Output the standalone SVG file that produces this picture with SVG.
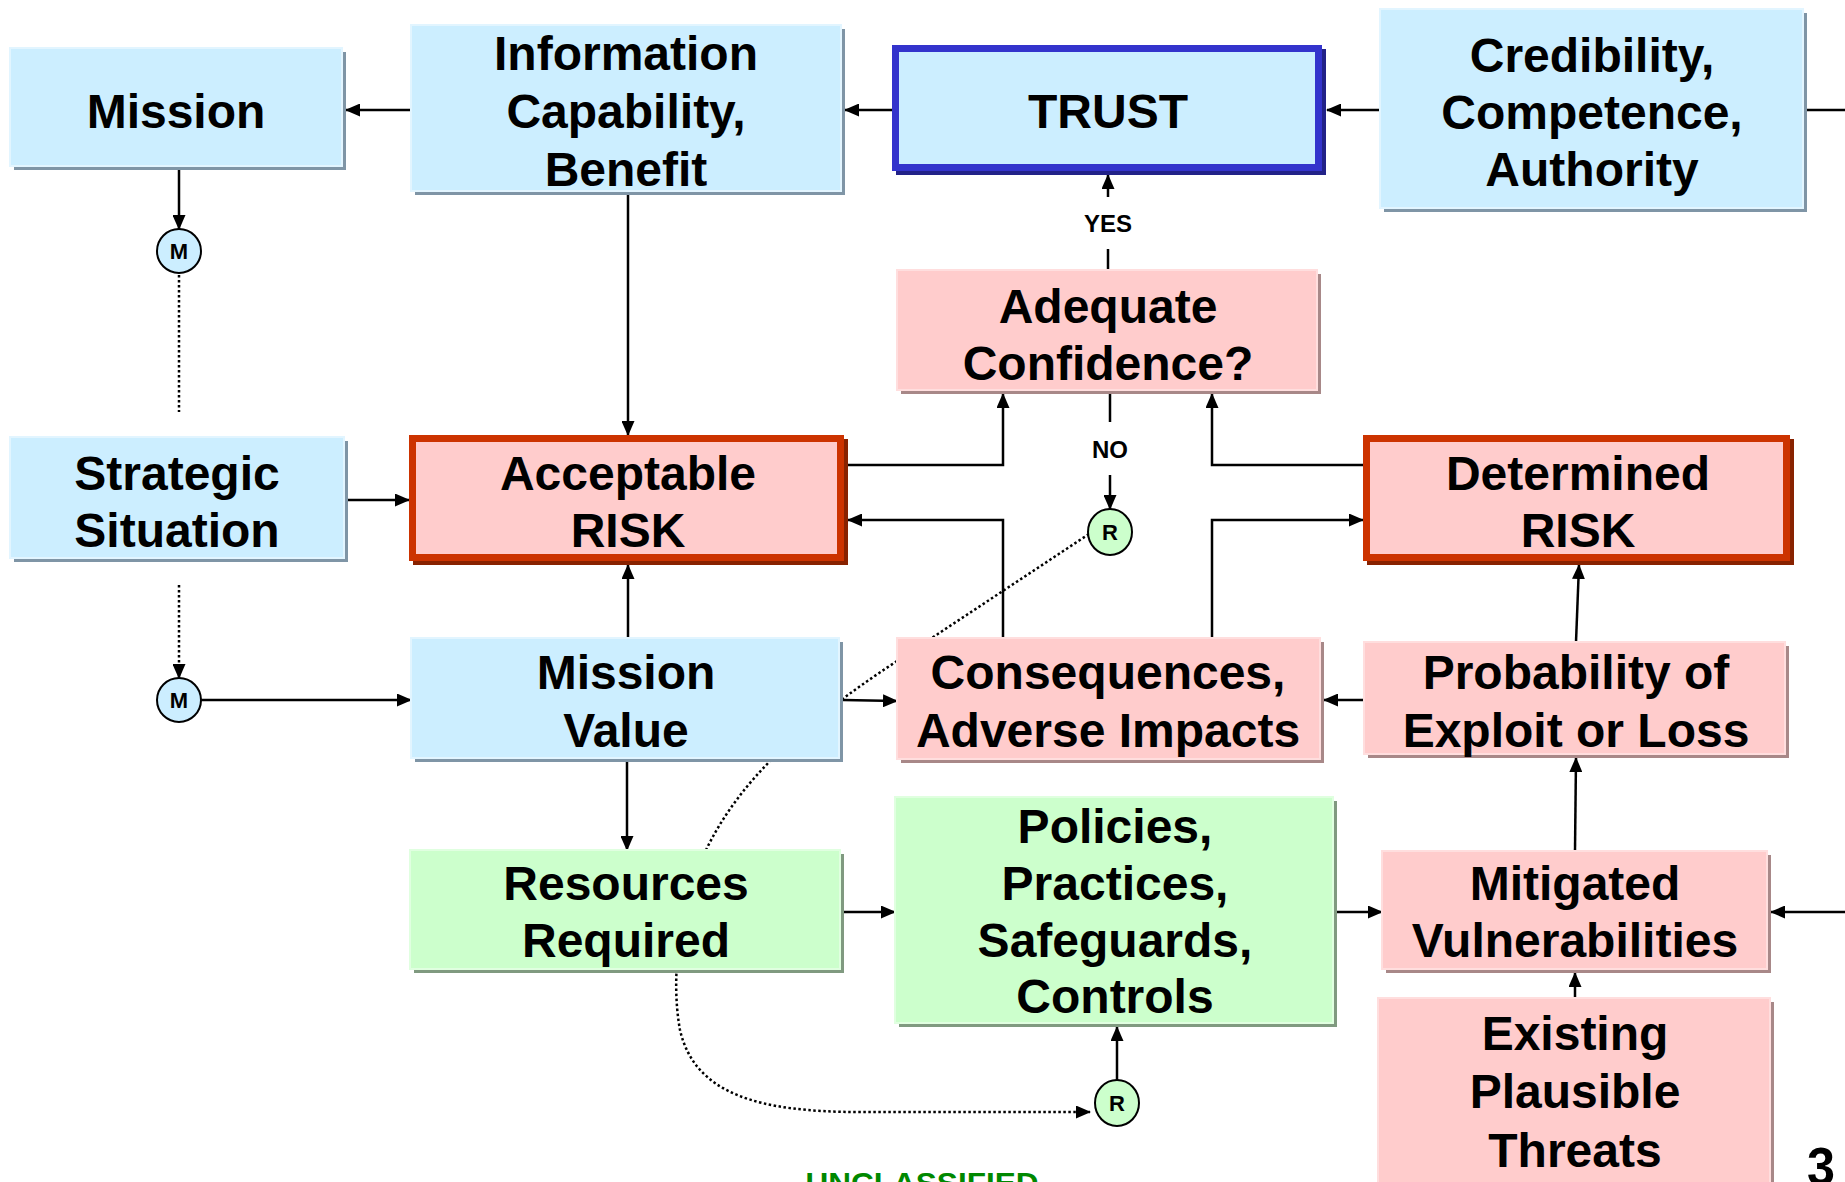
<svg xmlns="http://www.w3.org/2000/svg" width="1845" height="1182" viewBox="0 0 1845 1182">
<style>
.t{font-family:"Liberation Sans",Arial,sans-serif;font-weight:bold;font-size:48px;fill:#000;text-anchor:middle}
.s{font-family:"Liberation Sans",Arial,sans-serif;font-weight:bold;font-size:24px;fill:#000;text-anchor:middle}
.c{font-family:"Liberation Sans",Arial,sans-serif;font-weight:bold;font-size:22px;fill:#000;text-anchor:middle}
.blue{fill:#cceeff;stroke:#e2f5ff;stroke-width:2}
.pink{fill:#ffcccc;stroke:#ffdede;stroke-width:2}
.green{fill:#ccffcc;stroke:#e0ffe0;stroke-width:2}
.shb{fill:#7f95a6}
.shp{fill:#a88888}
.shg{fill:#809a80}
.red{fill:#ffcccc;stroke:#cc3300;stroke-width:7}
.shr{fill:#882200}
.trust{fill:#cceeff;stroke:#3333cc;stroke-width:7}
.sht{fill:#222288}
.ln{fill:none;stroke:#000;stroke-width:2.5}
.dot{fill:none;stroke:#000;stroke-width:2.5;stroke-dasharray:2.5,2.5}
.circM{fill:#cceeff;stroke:#000;stroke-width:2}
.circR{fill:#ccffcc;stroke:#000;stroke-width:2}
</style>
<defs>
<marker id="ah" markerUnits="userSpaceOnUse" markerWidth="15" markerHeight="13" refX="14" refY="6.5" orient="auto">
<path d="M0,0 L15,6.5 L0,13 z" fill="#000"/>
</marker>
</defs>

<g id="connectors">
<path class="ln" d="M411,110 L346,110" marker-end="url(#ah)"/>
<path class="ln" d="M892,110 L845,110" marker-end="url(#ah)"/>
<path class="ln" d="M1380,110 L1327,110" marker-end="url(#ah)"/>
<path class="ln" d="M1807,110 L1845,110"/>
<path class="ln" d="M179,170 L179,229" marker-end="url(#ah)"/>
<path class="dot" d="M179,275 L179,412"/>
<path class="dot" d="M179,585 L179,678" marker-end="url(#ah)"/>
<path class="ln" d="M201,700 L411,700" marker-end="url(#ah)"/>
<path class="ln" d="M348,500 L409,500" marker-end="url(#ah)"/>
<path class="ln" d="M628,195 L628,435" marker-end="url(#ah)"/>
<path class="ln" d="M628,638 L628,565" marker-end="url(#ah)"/>
<path class="ln" d="M843,700 L897,701" marker-end="url(#ah)"/>
<path class="ln" d="M1003,638 L1003,520 L848,520" marker-end="url(#ah)"/>
<path class="ln" d="M848,465 L1003,465 L1003,394" marker-end="url(#ah)"/>
<path class="ln" d="M1108,270 L1108,249"/>
<path class="ln" d="M1108,197 L1108,175" marker-end="url(#ah)"/>
<path class="ln" d="M1110,394 L1110,422"/>
<path class="ln" d="M1110,475 L1110,509" marker-end="url(#ah)"/>
<path class="ln" d="M1363,465 L1212,465 L1212,394" marker-end="url(#ah)"/>
<path class="ln" d="M1212,638 L1212,520 L1363,520" marker-end="url(#ah)"/>
<path class="ln" d="M1576,642 L1579,565" marker-end="url(#ah)"/>
<path class="ln" d="M1364,700 L1324,700" marker-end="url(#ah)"/>
<path class="ln" d="M1575,851 L1576,758" marker-end="url(#ah)"/>
<path class="ln" d="M1575,998 L1575,973" marker-end="url(#ah)"/>
<path class="ln" d="M1337,912 L1382,912" marker-end="url(#ah)"/>
<path class="ln" d="M1845,912 L1771,912" marker-end="url(#ah)"/>
<path class="ln" d="M627,762 L627,850" marker-end="url(#ah)"/>
<path class="ln" d="M844,912 L895,912" marker-end="url(#ah)"/>
<path class="ln" d="M1117,1080 L1117,1027" marker-end="url(#ah)"/>
<path class="dot" d="M1089,534 L897,661 C800,725 740,780 706,850 C680,905 670,975 680,1030 C695,1095 760,1112 860,1112 L1090,1112" marker-end="url(#ah)"/>
<text class="s" x="1108" y="232">YES</text>
<text class="s" x="1110" y="458">NO</text>
</g>

<g id="mission">
<rect class="shb" x="14" y="52" width="332" height="118"/>
<rect class="blue" x="10" y="48" width="332" height="118"/>
<text class="t" x="176" y="128">Mission</text>
</g>

<g id="info">
<rect class="shb" x="415" y="29" width="430" height="166"/>
<rect class="blue" x="411" y="25" width="430" height="166"/>
<text class="t" x="626" y="70">Information</text>
<text class="t" x="626" y="128">Capability,</text>
<text class="t" x="626" y="186">Benefit</text>
</g>

<g id="trust">
<rect class="sht" x="896" y="49" width="430" height="126"/>
<rect class="trust" x="895.5" y="48.5" width="423" height="119"/>
<text class="t" x="1108" y="128">TRUST</text>
</g>

<g id="credibility">
<rect class="shb" x="1384" y="13" width="423" height="199"/>
<rect class="blue" x="1380" y="9" width="423" height="199"/>
<text class="t" x="1592" y="72">Credibility,</text>
<text class="t" x="1592" y="129">Competence,</text>
<text class="t" x="1592" y="186">Authority</text>
</g>

<g id="m1">
<ellipse class="circM" cx="179" cy="251" rx="22" ry="22"/>
<text class="c" x="179" y="259">M</text>
</g>

<g id="adequate">
<rect class="shp" x="901" y="274" width="420" height="120"/>
<rect class="pink" x="897" y="270" width="420" height="120"/>
<text class="t" x="1108" y="323">Adequate</text>
<text class="t" x="1108" y="380">Confidence?</text>
</g>

<g id="strategic">
<rect class="shb" x="14" y="441" width="334" height="121"/>
<rect class="blue" x="10" y="437" width="334" height="121"/>
<text class="t" x="177" y="490">Strategic</text>
<text class="t" x="177" y="547">Situation</text>
</g>

<g id="acceptable">
<rect class="shr" x="413" y="439" width="435" height="126"/>
<rect class="red" x="412.5" y="438.5" width="428" height="119"/>
<text class="t" x="628" y="490">Acceptable</text>
<text class="t" x="628" y="547">RISK</text>
</g>

<g id="r1">
<ellipse class="circR" cx="1110" cy="532" rx="22" ry="23"/>
<text class="c" x="1110" y="540">R</text>
</g>

<g id="determined">
<rect class="shr" x="1367" y="439" width="427" height="126"/>
<rect class="red" x="1366.5" y="438.5" width="420" height="119"/>
<text class="t" x="1578" y="490">Determined</text>
<text class="t" x="1578" y="547">RISK</text>
</g>

<g id="m2">
<ellipse class="circM" cx="179" cy="700" rx="22" ry="22"/>
<text class="c" x="179" y="708">M</text>
</g>

<g id="missionvalue">
<rect class="shb" x="415" y="642" width="428" height="120"/>
<rect class="blue" x="411" y="638" width="428" height="120"/>
<text class="t" x="626" y="689">Mission</text>
<text class="t" x="626" y="747">Value</text>
</g>

<g id="consequences">
<rect class="shp" x="901" y="642" width="423" height="121"/>
<rect class="pink" x="897" y="638" width="423" height="121"/>
<text class="t" x="1108" y="689">Consequences,</text>
<text class="t" x="1108" y="747">Adverse Impacts</text>
</g>

<g id="probability">
<rect class="shp" x="1368" y="646" width="421" height="112"/>
<rect class="pink" x="1364" y="642" width="421" height="112"/>
<text class="t" x="1576" y="689">Probability of</text>
<text class="t" x="1576" y="747">Exploit or Loss</text>
</g>

<g id="resources">
<rect class="shg" x="414" y="854" width="430" height="119"/>
<rect class="green" x="410" y="850" width="430" height="119"/>
<text class="t" x="626" y="900">Resources</text>
<text class="t" x="626" y="957">Required</text>
</g>

<g id="policies">
<rect class="shg" x="899" y="801" width="438" height="226"/>
<rect class="green" x="895" y="797" width="438" height="226"/>
<text class="t" x="1115" y="843">Policies,</text>
<text class="t" x="1115" y="900">Practices,</text>
<text class="t" x="1115" y="957">Safeguards,</text>
<text class="t" x="1115" y="1013">Controls</text>
</g>

<g id="mitigated">
<rect class="shp" x="1386" y="855" width="385" height="118"/>
<rect class="pink" x="1382" y="851" width="385" height="118"/>
<text class="t" x="1575" y="900">Mitigated</text>
<text class="t" x="1575" y="957">Vulnerabilities</text>
</g>

<g id="existing">
<rect class="shp" x="1382" y="1002" width="392" height="200"/>
<rect class="pink" x="1378" y="998" width="392" height="200"/>
<text class="t" x="1575" y="1050">Existing</text>
<text class="t" x="1575" y="1108">Plausible</text>
<text class="t" x="1575" y="1167">Threats</text>
</g>

<g id="r2">
<ellipse class="circR" cx="1117" cy="1103" rx="22" ry="23"/>
<text class="c" x="1117" y="1111">R</text>
</g>

<text x="922" y="1193" font-family="Liberation Sans, Arial, sans-serif" font-weight="bold" font-size="30" fill="#008800" text-anchor="middle" textLength="233" lengthAdjust="spacingAndGlyphs">UNCLASSIFIED</text>
<text x="1821" y="1185" font-family="Liberation Sans, Arial, sans-serif" font-weight="bold" font-size="54" fill="#000" text-anchor="middle" textLength="28" lengthAdjust="spacingAndGlyphs">3</text>
</svg>
